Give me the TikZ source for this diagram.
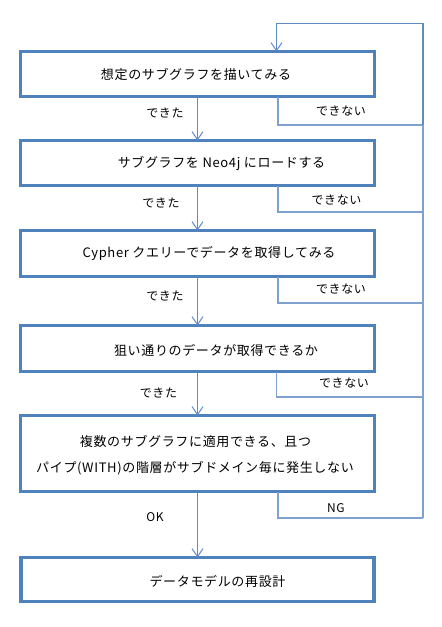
\documentclass[tikz,border=0pt]{standalone}
\usepackage{fontspec}
\newfontfamily\jp{Noto Sans CJK JP}[LetterSpace=5]
\usetikzlibrary{arrows.meta}
\definecolor{boxblue}{HTML}{4F81BD}
\definecolor{linkblue}{HTML}{5F8CC6}
\definecolor{fbblue}{HTML}{7FA1D0}
\tikzset{
  box/.style={draw=boxblue, line width=3.3pt, minimum width=354pt, inner sep=0pt, outer sep=0pt},
  txt/.style={font=\jp\fontsize{13pt}{15pt}\selectfont, inner sep=0pt},
  lab/.style={font=\jp\fontsize{12pt}{14pt}\selectfont, inner sep=0pt},
  down/.style={draw=linkblue, line width=1pt, -{Straight Barb[length=8pt,width=11pt,line width=1pt]}},
  fb/.style={draw=fbblue, line width=1.2pt},
  fbarrow/.style={draw=linkblue, line width=1.2pt, -{Straight Barb[length=8pt,width=11pt,line width=1pt]}}
}
\begin{document}
\begin{tikzpicture}[x=1pt,y=-1pt]
\useasboundingbox (0,0) rectangle (442,627);
% boxes
\node[box, minimum height=45pt] (b1) at (197.5,74) {};
\node[box, minimum height=45pt] (b2) at (197.5,163) {};
\node[box, minimum height=46pt] (b3) at (197.5,253.5) {};
\node[box, minimum height=46pt] (b4) at (197.5,348.5) {};
\node[box, minimum height=76pt] (b5) at (197.5,453.5) {};
\node[box, minimum height=44pt, minimum width=353pt] (b6) at (197.5,579.5) {};
% texts
\node[txt] (t1) at (196,74) {想定のサブグラフを描いてみる};
\node[txt] (t2) at (221.5,163) {サブグラフを Neo4j にロードする};
\node[txt] (t3) at (209,253) {Cypher クエリーでデータを取得してみる};
\node[txt] (t4) at (216,350) {狙い通りのデータが取得できるか};
\node[txt] (t5a) at (195.5,441) {複数のサブグラフに適用できる、且つ};
\node[txt] (t5b) at (195,468) {パイプ(WITH)の階層がサブドメイン毎に発生しない};
\node[txt] (t6) at (217.5,581) {データモデルの再設計};
% down arrows
\draw[down] (b1.south) -- (b2.north);
\draw[down] (b2.south) -- (b3.north);
\draw[down] (b3.south) -- (b4.north);
\draw[down] (b4.south) -- (b5.north);
\draw[down] (b5.south) -- (b6.north);
% feedback coordinates
\coordinate (r1) at (423,125);
\coordinate (r2) at (423,212);
\coordinate (r3) at (423,303);
\coordinate (r4) at (423,397);
\coordinate (r5) at (423,518);
\coordinate (tr) at (423,23.5);
\coordinate (tl) at (276.5,23.5);
\coordinate (f1) at (278,0);
\coordinate (f4) at (276.5,0);
\draw[fb] (b1.south -| f1) |- (r1);
\draw[fb] (b2.south -| f1) |- (r2);
\draw[fb] (b3.south -| f1) |- (r3);
\draw[fb] (b4.south -| f4) |- (r4);
\draw[fb] (b5.south -| f1) |- (r5);
\draw[fb] (r5) -- (r1);
\draw[fbarrow] (r1) -- (tr) -- (tl) -- (b1.north -| tl);
% labels
\node[lab] (d1) at (165,113) {できた};
\node[lab] (d2) at (161,203) {できた};
\node[lab] (d3) at (165,296) {できた};
\node[lab] (d4) at (158.5,393) {できた};
\node[lab] (n1) at (341,111) {できない};
\node[lab] (n2) at (336.5,200) {できない};
\node[lab] (n3) at (341,289) {できない};
\node[lab] (n4) at (344,383) {できない};
\node[lab] (ok) at (155,517) {OK};
\node[lab] (ng) at (336,508) {NG};
\end{tikzpicture}
\end{document}
